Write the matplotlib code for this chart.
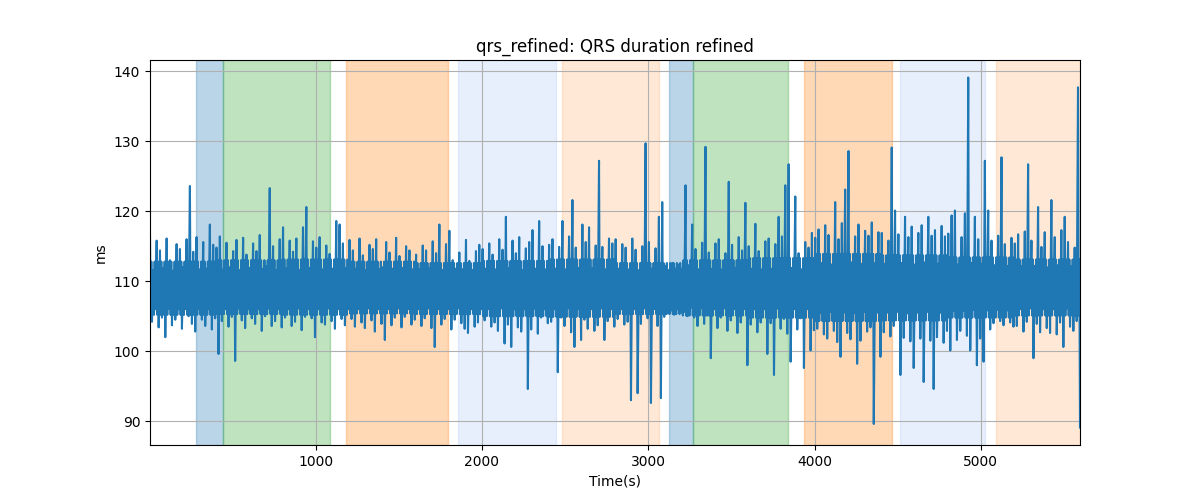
import numpy as np
import matplotlib
matplotlib.use("Agg")
import matplotlib.pyplot as plt

# signal: local peaks (hi) and troughs (lo), one pair every 20 s
t_start = 4
step = 20

hi = [
    116.5, 111.6, 115.8, 114.4, 111.9, 116.1, 113.0, 111.5, 115.3, 114.6, 112.0, 116.0, 123.6, 114.2, 116.3, 111.7, 115.6, 111.8, 118.1, 115.2,
    114.8, 116.4, 111.7, 115.5, 112.0, 114.3, 115.9, 111.6, 116.2, 113.8, 111.9, 115.4, 114.3, 116.6, 111.8, 112.1, 123.3, 115.0, 111.6, 116.0,
    117.7, 111.8, 115.8, 114.2, 116.1, 111.6, 117.7, 120.6, 111.9, 115.7, 114.8, 116.3, 111.7, 115.1, 113.9, 111.8, 118.6, 118.1, 115.4, 111.9,
    115.9, 114.4, 111.8, 116.1, 113.7, 111.6, 115.2, 114.6, 116.0, 111.7, 112.0, 115.6, 114.1, 111.8, 116.2, 113.6, 111.9, 115.0, 114.4, 111.7,
    113.8, 111.7, 115.1, 114.4, 111.8, 115.7, 114.0, 118.1, 111.6, 115.3, 117.2, 113.0, 111.8, 114.1, 111.7, 115.9, 112.9, 111.6, 114.3, 115.2,
    114.6, 111.8, 115.4, 113.8, 111.7, 116.0, 114.5, 119.2, 111.9, 115.8, 114.0, 116.3, 111.6, 114.7, 115.6, 117.3, 111.8, 118.6, 115.0, 111.7,
    115.2, 116.0, 111.8, 114.9, 118.6, 111.7, 116.4, 121.6, 114.8, 111.9, 118.1, 115.6, 117.7, 111.8, 115.1, 127.2, 114.9, 111.7, 116.1, 115.4,
    116.0, 111.8, 115.3, 114.8, 111.7, 116.1, 114.5, 111.6, 115.0, 129.7, 115.6, 111.8, 114.7, 119.2, 121.3, 112.2, 111.6, 112.6, 111.8, 112.4,
    111.8, 123.7, 112.3, 118.1, 114.6, 111.7, 115.5, 129.2, 114.1, 111.8, 115.4, 116.0, 111.7, 114.0, 124.2, 115.2, 111.9, 116.3, 114.4, 121.2,
    115.0, 111.8, 118.2, 114.3, 111.7, 115.7, 116.1, 111.8, 115.3, 119.2, 116.4, 123.7, 126.7, 111.9, 122.1, 114.0, 111.7, 115.6, 114.8, 116.9,
    116.2, 117.4, 112.6, 118.0, 116.6, 112.4, 121.3, 116.0, 118.3, 123.1, 128.6, 112.7, 116.4, 118.1, 112.5, 117.2, 116.5, 118.4, 112.6, 117.0,
    116.9, 112.5, 115.8, 129.1, 120.1, 116.7, 112.6, 119.2, 116.3, 117.8, 112.4, 116.9, 118.0, 112.7, 119.2, 116.5, 117.3, 112.5, 117.9, 116.4,
    116.8, 119.4, 120.1, 112.4, 116.3, 119.7, 139.1, 112.6, 119.2, 116.0, 112.5, 127.2, 120.1, 115.8, 112.3, 116.5, 127.7, 115.3, 112.2, 116.2,
    115.4, 116.7, 112.1, 117.1, 126.7, 115.8, 112.2, 120.6, 114.9, 117.0, 112.0, 121.6, 116.3, 112.3, 117.3, 119.2, 115.6, 112.1, 114.8, 137.7,
]
lo = [
    104.2, 106.0, 103.4, 104.8, 102.0, 106.1, 103.7, 104.5, 106.0, 103.2, 106.0, 105.0, 103.9, 102.8, 106.1, 104.5, 103.6, 106.0, 103.1, 104.7,
    99.6, 104.3, 106.0, 103.5, 104.9, 98.6, 106.1, 104.4, 103.3, 106.0, 104.7, 103.9, 106.0, 102.9, 105.0, 106.1, 103.6, 104.3, 106.0, 103.4,
    104.8, 106.0, 103.6, 104.2, 106.1, 103.0, 104.9, 106.0, 104.7, 102.0, 106.0, 104.1, 103.8, 106.1, 104.3, 103.2, 106.0, 104.6, 103.7, 106.0,
    104.6, 103.5, 106.0, 104.1, 103.3, 106.1, 104.4, 102.8, 106.0, 103.9, 101.6, 106.0, 103.7, 104.8, 106.1, 103.4, 104.9, 106.0, 103.8, 104.5,
    106.0, 103.6, 104.7, 106.1, 103.3, 100.6, 106.0, 103.8, 104.6, 106.0, 103.1, 104.5, 106.1, 104.0, 103.2, 102.6, 106.0, 103.5, 104.1, 106.0,
    104.4, 106.0, 103.5, 104.1, 102.9, 106.1, 101.1, 103.8, 100.6, 106.0, 103.4, 102.8, 106.0, 94.6, 103.1, 106.1, 102.5, 104.8, 106.0, 104.0,
    104.2, 106.0, 97.0, 104.8, 103.6, 106.1, 102.7, 100.6, 106.0, 101.6, 104.5, 103.2, 106.0, 102.9, 103.7, 106.1, 101.6, 104.3, 106.0, 103.5,
    104.6, 106.0, 103.8, 104.2, 93.0, 106.0, 94.0, 103.9, 106.1, 104.7, 92.6, 106.0, 103.6, 93.3, 104.9, 105.4, 105.8, 105.2, 106.0, 105.5,
    105.6, 105.0, 106.2, 104.8, 103.6, 106.1, 103.9, 105.1, 99.0, 106.0, 103.3, 104.8, 106.1, 102.9, 104.4, 106.0, 102.6, 104.1, 106.0, 98.0,
    103.8, 106.0, 102.7, 104.1, 106.0, 99.6, 104.0, 96.6, 106.1, 103.2, 104.6, 102.5, 98.5, 106.0, 103.1, 104.7, 97.6, 106.0, 100.1, 103.0,
    103.2, 105.5, 102.4, 101.8, 105.6, 102.9, 101.3, 99.2, 105.5, 102.6, 101.7, 105.4, 98.2, 101.5, 105.6, 102.8, 103.4, 89.6, 105.5, 99.2,
    102.7, 105.5, 102.1, 103.6, 105.6, 96.6, 101.9, 105.4, 101.4, 97.6, 105.5, 101.8, 95.6, 105.6, 101.5, 94.6, 102.0, 105.5, 101.2, 102.9,
    100.1, 105.8, 101.6, 102.9, 105.8, 102.2, 100.1, 105.9, 98.0, 101.8, 98.5, 105.8, 103.1, 104.0, 105.9, 104.3, 103.7, 105.8, 104.1, 103.5,
    103.6, 106.0, 102.8, 104.2, 106.1, 99.0, 103.9, 102.7, 106.0, 103.3, 102.6, 106.0, 102.4, 104.1, 100.6, 106.1, 103.5, 102.9, 104.3, 89.1,
]

# solid inner band of the trace, one top/bottom reading per 400 s
core_top = [112.8, 113.0, 113.1, 112.8, 112.6, 112.9, 113.1, 112.6, 113.0, 113.3, 113.9, 113.7, 113.4, 113.1]
core_bot = [105.2, 105.3, 105.2, 105.4, 105.3, 105.0, 104.9, 105.3, 105.1, 104.8, 104.3, 104.4, 104.8, 105.1]

# shaded segments
seg_start = [279, 441, 1180, 1853, 2483, 3126, 3266, 3937, 4514, 5089]
seg_end = [441, 1085, 1798, 2447, 3062, 3266, 3839, 4463, 5022, 5596]
seg_color = ["tab:blue", "tab:green", "tab:orange", "cornflowerblue", "tab:orange",
             "tab:blue", "tab:green", "tab:orange", "cornflowerblue", "tab:orange"]
seg_alpha = [0.3, 0.3, 0.3, 0.15, 0.17, 0.3, 0.3, 0.3, 0.15, 0.17]

n = len(hi)
row = np.arange(n) // 20
t_hi = t_start + step * np.arange(n)
ctop = np.array(core_top)[row]
cbot = np.array(core_bot)[row]
# each 20 s: peak, inner band bottom, inner band top, trough
t = np.column_stack([t_hi, t_hi + 4, t_hi + 8, t_hi + 12]).ravel()
y = np.column_stack([hi, cbot, ctop, lo]).ravel()

fig, ax = plt.subplots(figsize=(12, 5), dpi=100)
for s, e, c, a in zip(seg_start, seg_end, seg_color, seg_alpha):
    ax.axvspan(s, e, color=c, alpha=a)
ax.plot(t, y, color="tab:blue", linewidth=1.5)
ax.set_xlim(t[0], t[-1])
ax.set_title("qrs_refined: QRS duration refined")
ax.set_xlabel("Time(s)")
ax.set_ylabel("ms")
ax.grid(True)
fig.savefig("out.png")
